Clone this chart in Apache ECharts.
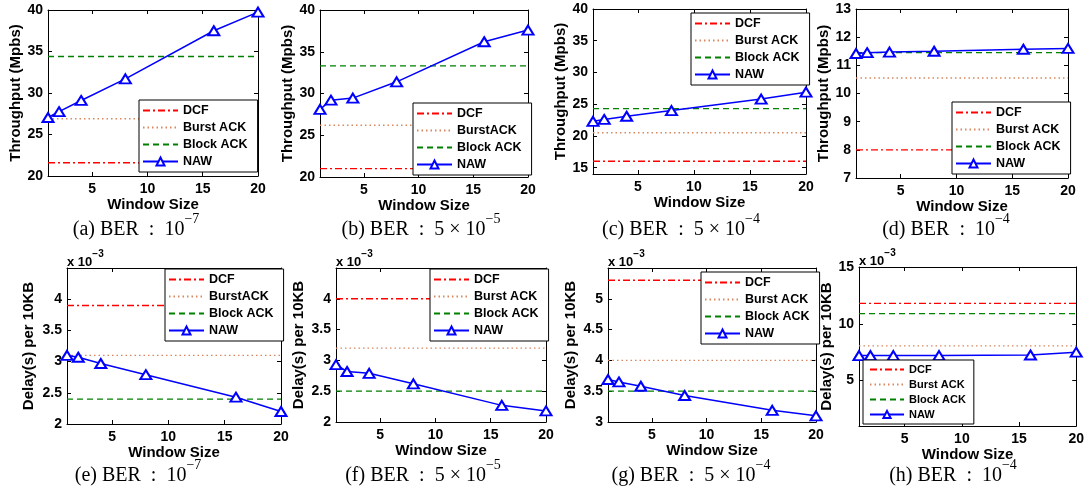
<!DOCTYPE html>
<html>
<head>
<meta charset="utf-8">
<script src="https://cdn.jsdelivr.net/npm/echarts@6/dist/echarts.min.js"></script>
<style>
html, body { margin: 0; padding: 0; background: #fff; }
#main { width: 1087px; height: 489px; }
</style>
</head>
<body>
<div id="main"></div>
<script>
// window sizes on the x axis (same for all panels)
var windowSizes = [1, 2, 4, 8, 16, 20];
var xTicks = [5, 10, 15, 20];

// throughput (Mpbs), panels a-d
var thrDCF = [21.6, 21.0, 16.0, 8.0];
var thrBurst = [26.9, 26.2, 20.5, 10.55];
var thrBlock = [34.4, 33.3, 24.3, 11.45];
var thrNAW = [
    [27.05, 27.75, 29.1, 31.7, 37.5, 39.75],
    [28.1, 29.2, 29.45, 31.4, 36.2, 37.6],
    [22.3, 22.6, 23.1, 24.0, 25.8, 26.9],
    [11.42, 11.45, 11.47, 11.5, 11.57, 11.6]
];

// delay per 10KB (x 10^-3 s), panels e-h
var dlyDCF = [3.9, 4.0, 5.3, 11.8];
var dlyBurst = [3.1, 3.2, 4.0, 8.05];
var dlyBlock = [2.4, 2.5, 3.5, 10.9];
var dlyNAW = [
    [3.1, 3.07, 2.97, 2.79, 2.43, 2.2],
    [2.93, 2.82, 2.79, 2.62, 2.27, 2.18],
    [3.69, 3.65, 3.58, 3.43, 3.19, 3.1],
    [7.2, 7.2, 7.2, 7.2, 7.25, 7.5]
];

// y ranges and tick labels
var yRanges = [[20, 40], [20, 40], [14, 40], [7, 13], [2, 4.5], [2, 4.5], [3, 5.5], [1, 15]];
var yTickLists = [
    [20, 25, 30, 35, 40], [20, 25, 30, 35, 40], [15, 20, 25, 30, 35, 40], [7, 8, 9, 10, 11, 12, 13],
    [2, 2.5, 3, 3.5, 4], [2, 2.5, 3, 3.5, 4], [3, 3.5, 4, 4.5, 5], [5, 10, 15]
];
var burstNames = ['Burst ACK', 'BurstACK', 'Burst ACK', 'Burst ACK', 'BurstACK', 'Burst ACK', 'Burst ACK', 'Burst ACK'];
var captionHead = ['(a) BER  :  10', '(b) BER  :  5 \u00d7 10', '(c) BER  :  5 \u00d7 10', '(d) BER  :  10',
                   '(e) BER  :  10', '(f) BER  :  5 \u00d7 10', '(g) BER  :  5 \u00d7 10', '(h) BER  :  10'];
var captionExp = ['\u22127', '\u22125', '\u22124', '\u22124', '\u22127', '\u22125', '\u22124', '\u22124'];

// layout per panel: plot box, y-name gap, legend corner, legend font, caption centre
var layout = [
    { box: [48, 10, 210, 166], yGap: 22, leg: [139, 100], legSize: 12.5, cap: [136, 226] },
    { box: [320, 10, 208, 167], yGap: 23, leg: [413, 103], legSize: 12.5, cap: [421, 226] },
    { box: [593, 9, 213, 165], yGap: 23, leg: [691, 13], legSize: 12.5, cap: [681, 226] },
    { box: [856, 9, 212, 169], yGap: 25, leg: [952, 102], legSize: 12.5, cap: [946, 226] },
    { box: [67, 268, 214, 156], yGap: 31, leg: [165, 269], legSize: 12.5, cap: [138, 472] },
    { box: [336, 268, 210, 154], yGap: 30, leg: [430, 269], legSize: 12.5, cap: [423, 472] },
    { box: [608, 268, 208, 154], yGap: 30, leg: [701, 272], legSize: 12.5, cap: [691, 472] },
    { box: [859, 267, 218, 159], yGap: 22, leg: [863, 360], legSize: 11, cap: [953, 472] }
];

var sans = 'Liberation Sans';
var tickFont = { color: '#000', fontFamily: sans, fontWeight: 'bold', fontSize: 14 };
var nameFont = { color: '#000', fontFamily: sans, fontWeight: 'bold', fontSize: 15 };

function flat(v) {
    return windowSizes.map(function (w) { return [w, v]; });
}
function pairs(arr) {
    return windowSizes.map(function (w, k) { return [w, arr[k]]; });
}

var option = {
    animation: false,
    backgroundColor: '#fff',
    grid: [], xAxis: [], yAxis: [], series: [], legend: [], graphic: []
};

layout.forEach(function (p, i) {
    var top = i < 4;
    var j = i % 4;
    var small = p.legSize < 12;
    option.grid.push({ left: p.box[0], top: p.box[1], width: p.box[2], height: p.box[3] });

    var axLine = { onZero: false, lineStyle: { color: '#000', width: 1 } };
    option.xAxis.push({
        gridIndex: i, type: 'value', min: 1, max: 20, position: 'bottom',
        name: 'Window Size', nameLocation: 'middle', nameGap: 21, nameTextStyle: nameFont,
        axisLine: axLine,
        axisTick: { inside: true, length: 4, customValues: xTicks, lineStyle: { color: '#000' } },
        axisLabel: Object.assign({ customValues: xTicks, margin: 6 }, tickFont),
        splitLine: { show: false }
    });
    option.xAxis.push({
        gridIndex: i, type: 'value', min: 1, max: 20, position: 'top',
        axisLine: axLine,
        axisTick: { inside: true, length: 4, customValues: xTicks, lineStyle: { color: '#000' } },
        axisLabel: { show: false }, splitLine: { show: false }
    });
    option.yAxis.push({
        gridIndex: i, type: 'value', min: yRanges[i][0], max: yRanges[i][1], position: 'left',
        name: top ? 'Throughput (Mpbs)' : 'Delay(s) per 10KB',
        nameLocation: 'middle', nameGap: p.yGap, nameTextStyle: nameFont,
        axisLine: axLine,
        axisTick: { inside: true, length: 4, customValues: yTickLists[i], lineStyle: { color: '#000' } },
        axisLabel: Object.assign({ customValues: yTickLists[i], margin: 5 }, tickFont),
        splitLine: { show: false }
    });
    option.yAxis.push({
        gridIndex: i, type: 'value', min: yRanges[i][0], max: yRanges[i][1], position: 'right',
        axisLine: axLine,
        axisTick: { inside: true, length: 4, customValues: yTickLists[i], lineStyle: { color: '#000' } },
        axisLabel: { show: false }, splitLine: { show: false }
    });

    var dcf = top ? thrDCF[j] : dlyDCF[j];
    var burst = top ? thrBurst[j] : dlyBurst[j];
    var block = top ? thrBlock[j] : dlyBlock[j];
    var naw = top ? thrNAW[j] : dlyNAW[j];

    option.series.push({
        name: 'DCF', type: 'line', xAxisIndex: 2 * i, yAxisIndex: 2 * i,
        data: flat(dcf), symbol: 'none',
        lineStyle: { color: '#ff0000', width: 1.4, type: [7, 3, 2, 3] }, itemStyle: { color: '#ff0000' }
    });
    option.series.push({
        name: burstNames[i], type: 'line', xAxisIndex: 2 * i, yAxisIndex: 2 * i,
        data: flat(burst), symbol: 'none',
        lineStyle: { color: '#d9875f', width: 1.3, type: [1.5, 3] }, itemStyle: { color: '#d9875f' }
    });
    option.series.push({
        name: 'Block ACK', type: 'line', xAxisIndex: 2 * i, yAxisIndex: 2 * i,
        data: flat(block), symbol: 'none',
        lineStyle: { color: '#008000', width: 1.3, type: [6, 4] }, itemStyle: { color: '#008000' }
    });
    option.series.push({
        name: 'NAW', type: 'line', xAxisIndex: 2 * i, yAxisIndex: 2 * i,
        data: pairs(naw), symbol: 'emptyTriangle', symbolSize: [11, 9],
        lineStyle: { color: '#0000ff', width: 1.5 },
        itemStyle: { color: '#0000ff', borderWidth: 1.5 }, z: 3
    });

    var noMark = { opacity: 0 };
    option.legend.push({
        left: p.leg[0], top: p.leg[1], orient: 'vertical',
        data: [
            { name: 'DCF', itemStyle: noMark },
            { name: burstNames[i], itemStyle: noMark },
            { name: 'Block ACK', itemStyle: noMark },
            { name: 'NAW' }
        ],
        backgroundColor: '#fff', borderColor: '#000', borderWidth: 1, borderRadius: 0,
        padding: small ? [4, 8, 4, 6] : [4, 10, 4, 3],
        itemWidth: small ? 34 : 35, itemHeight: small ? 9 : 10, itemGap: 4,
        selectedMode: false, z: 10,
        textStyle: { color: '#000', fontFamily: sans, fontWeight: 'bold', fontSize: p.legSize }
    });

    option.graphic.push({
        type: 'text', x: p.cap[0], y: p.cap[1],
        style: {
            text: '{n|' + captionHead[i] + '}{s|' + captionExp[i] + '}',
            align: 'center', verticalAlign: 'middle',
            rich: {
                n: { fontFamily: 'Liberation Serif', fontSize: 20, fill: '#000', verticalAlign: 'bottom', lineHeight: 27 },
                s: { fontFamily: 'Liberation Serif', fontSize: 14, fill: '#000', verticalAlign: 'top', lineHeight: 27 }
            }
        }
    });

    if (!top) {
        option.graphic.push({
            type: 'text', x: p.box[0], y: p.box[1] - 9,
            style: {
                text: '{n|x 10}{s|\u22123}',
                align: 'left', verticalAlign: 'middle',
                rich: {
                    n: { fontFamily: sans, fontWeight: 'bold', fontSize: 13, fill: '#000', verticalAlign: 'bottom', lineHeight: 20 },
                    s: { fontFamily: sans, fontWeight: 'bold', fontSize: 10, fill: '#000', verticalAlign: 'top', lineHeight: 20 }
                }
            }
        });
    }
});

var chart = echarts.init(document.getElementById('main'), null, { renderer: 'canvas' });
chart.setOption(option);
</script>
</body>
</html>
